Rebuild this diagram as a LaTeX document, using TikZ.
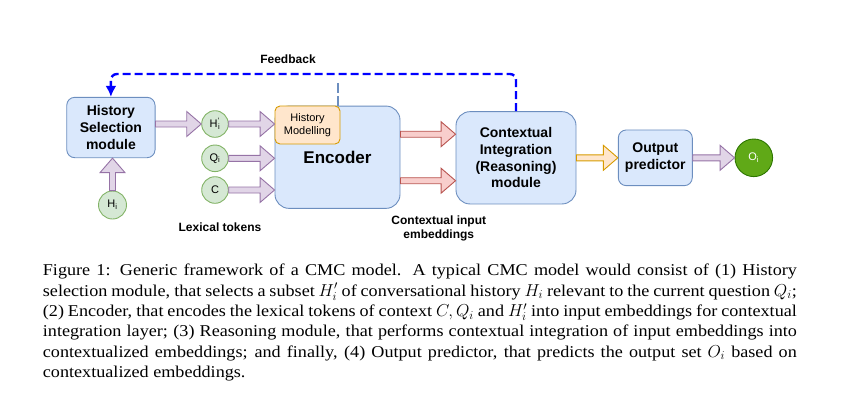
\documentclass[tikz,border=0pt]{standalone}
\usepackage{fontspec}
\setmainfont{Liberation Serif}[FakeStretch=1.1]
\setsansfont{Liberation Sans}
\usetikzlibrary{calc,arrows.meta}
\definecolor{boxfill}{HTML}{DAE8FC}
\definecolor{boxline}{HTML}{6C8EBF}
\definecolor{hmfill}{HTML}{FFE6CC}
\definecolor{hmline}{HTML}{D79B00}
\definecolor{tokfill}{HTML}{D5E8D4}
\definecolor{tokline}{HTML}{82B366}
\definecolor{outfill}{HTML}{60A917}
\definecolor{outdark}{HTML}{2D7600}
\definecolor{purfill}{HTML}{E1D5E7}
\definecolor{purline}{HTML}{9673A6}
\definecolor{redfill}{HTML}{F8CECC}
\definecolor{redline}{HTML}{B85450}
\definecolor{fbblue}{HTML}{0000FF}

\begin{document}
\begin{tikzpicture}[x=1pt,y=-1pt]
		\useasboundingbox (0,0) rectangle (846,408);
		\tikzstyle{module}=[draw=boxline,fill=boxfill,line width=0.9pt,rounded corners=8pt,inner sep=0pt,align=center,font=\sffamily\bfseries\fontsize{14}{16.7}\selectfont]
		\tikzstyle{token}=[circle,draw=tokline,fill=tokfill,line width=0.9pt,minimum size=26.6pt,inner sep=0pt,font=\sffamily\fontsize{11}{13}\selectfont]
		\tikzstyle{note}=[align=center,font=\sffamily\bfseries\fontsize{12}{13.5}\selectfont]
		\tikzstyle{fat}=[line width=0.9pt,to path={
			($(\tikztostart)!3pt!90:(\tikztotarget)$)
			-- ($($(\tikztotarget)!14.5pt!(\tikztostart)$)!3pt!90:(\tikztotarget)$)
			-- ($($(\tikztotarget)!14.5pt!(\tikztostart)$)!12.5pt!90:(\tikztotarget)$)
			-- (\tikztotarget)
			-- ($($(\tikztotarget)!14.5pt!(\tikztostart)$)!12.5pt!-90:(\tikztotarget)$)
			-- ($($(\tikztotarget)!14.5pt!(\tikztostart)$)!3pt!-90:(\tikztotarget)$)
			-- ($(\tikztostart)!3pt!-90:(\tikztotarget)$) -- cycle}]
		\tikzstyle{purarrow}=[fat,draw=purline,fill=purfill]
		\tikzstyle{redarrow}=[fat,draw=redline,fill=redfill]
		\tikzstyle{orarrow}=[fat,draw=hmline,fill=hmfill]
		\tikzstyle{feedback}=[draw=fbblue,line width=2.4pt,dash pattern=on 8pt off 4pt,rounded corners=6pt,-{Latex[length=11pt,width=11pt]}]
		% modules
		\node[module,minimum width=88.3pt,minimum height=60.4pt] (hs) at (110.9,127.5) {History\\Selection\\module};
		\node[module,minimum width=125pt,minimum height=102.3pt,rounded corners=14pt,font=\sffamily\bfseries\fontsize{17}{20}\selectfont] (enc) at (337.5,157.2) {Encoder};
		\node[draw=hmline,fill=hmfill,line width=0.9pt,rounded corners=5pt,minimum width=65pt,minimum height=38pt,inner sep=0pt,align=center,font=\sffamily\fontsize{11}{12.4}\selectfont] (hm) at (307.5,125) {History\\Modelling};
		\node[module,minimum width=120pt,minimum height=92.3pt,rounded corners=14pt] (ci) at (516,157.8) {Contextual\\Integration\\(Reasoning)\\module};
		\node[module,minimum width=74pt,minimum height=55.7pt] (op) at (655.3,157.8) {Output\\predictor};
		% tokens
		\node[token] (hp) at (215,124) {H\textsuperscript{'}\kern-1.5pt\textsubscript{i}};
		\node[token] (qi) at (215,158.3) {Q\textsubscript{i}};
		\node[token] (c) at (215,190) {C};
		\node[token,minimum size=28pt] (hi) at (112.5,205) {H\textsubscript{i}};
		\node[token,minimum size=37.6pt,draw=outdark,fill=outfill,text=white] (oi) at (753.8,157.8) {O\textsubscript{i}};
		% labels
		\node[note] (fb) at (288,59) {Feedback};
		\node[note] (lex) at (220,227) {Lexical tokens};
		\node[note] (emb) at (438.8,228.3) {Contextual input\\embeddings};
		% arrows
		\draw[purarrow] (hi.north) to (hi.north |- hs.south);
		\draw[purarrow] (hs.east |- hp.west) to (hp.west);
		\foreach \t in {hp,qi,c}
			\draw[purarrow] (\t.east) to (\t.east -| enc.west);
		\draw[redarrow] ([yshift=23pt]enc.east) to ([yshift=23pt]enc.east -| ci.west);
		\draw[redarrow] ([yshift=-23.5pt]enc.east) to ([yshift=-23.5pt]enc.east -| ci.west);
		\draw[orarrow] (ci.east) to (op.west);
		\draw[purarrow] (op.east) to (oi.west);
		% feedback
		\coordinate (fbl) at (0,74);
		\coordinate (enctap) at (338.3,83);
		\draw[feedback] (ci.north) -- (ci.north |- fbl) -- (hs.north |- fbl) -- (hs.north);
		\draw[draw=boxline,line width=1.8pt,dash pattern=on 10pt off 3pt] (enctap) -- (enctap |- hm.north);
		% caption
		\node[anchor=north west,inner sep=0pt,text width=754pt,align=justify,font=\rmfamily\fontsize{16.5}{20.3}\selectfont] (cap) at (42.7,264) {Figure 1: Generic framework of a CMC model.  A typical CMC model would consist of (1) History\linebreak
		selection module, that selects a subset $H'_i$ of conversational history $H_i$ relevant to the current question $Q_i$;\linebreak
		(2) Encoder, that encodes the lexical tokens of context $C, Q_i$ and $H'_i$ into input embeddings for contextual\linebreak
		integration layer; (3) Reasoning module, that performs contextual integration of input embeddings into\linebreak
		contextualized embeddings; and finally, (4) Output predictor, that predicts the output set $O_i$ based on\linebreak
		contextualized embeddings.};
	\end{tikzpicture}
\end{document}
